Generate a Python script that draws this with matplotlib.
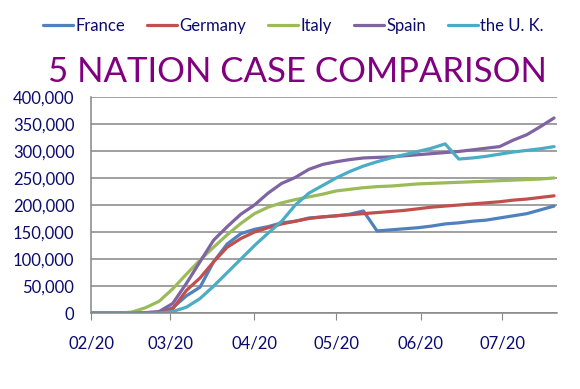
import matplotlib
matplotlib.use("Agg")
import matplotlib.pyplot as plt
import matplotlib.dates as mdates
import matplotlib.ticker as ticker
import numpy as np
import pandas as pd

plt.rcParams['font.family'] = ['Lato', 'DejaVu Sans']

# days since 2020-02-01, one point every 5 days
days = np.arange(0, 171, 5)
dates = pd.Timestamp("2020-02-01") + pd.to_timedelta(days, unit="D")

france = [0, 0, 0, 0, 0, 1, 10, 32, 48, 95, 128, 147, 155, 160, 167, 170, 176, 178,
          180, 183, 189, 152, 154, 156, 158, 161, 165, 167, 170, 172, 176, 180, 184, 191, 198]
germany = [0, 0, 0, 0, 0, 1, 8, 42, 65, 95, 122, 138, 150, 158, 165, 170, 175, 178,
           180, 182, 184, 186, 188, 190, 193, 196, 198, 200, 202, 204, 206, 209, 211, 214, 217]
italy = [0, 0, 0, 2, 10, 22, 45, 72, 98, 122, 145, 166, 184, 196, 204, 210, 215, 220,
         226, 229, 232, 234, 235, 237, 239, 240, 241, 242, 243, 244, 245, 246, 247, 248, 250]
spain = [0, 0, 0, 0, 1, 3, 18, 55, 95, 135, 160, 183, 200, 222, 240, 251, 266, 275,
         280, 284, 287, 288, 289, 291, 293, 295, 297, 299, 302, 305, 308, 320, 330, 345, 361]
uk = [0, 0, 0, 0, 0, 0, 3, 11, 27, 50, 75, 100, 125, 148, 170, 200, 222, 236,
      250, 262, 272, 280, 287, 293, 299, 305, 313, 285, 287, 290, 294, 298, 301, 304, 308]

names = ["France", "Germany", "Italy", "Spain", "the U. K."]
series = [france, germany, italy, spain, uk]
colors = ["#4F81BD", "#C0504D", "#9BBB59", "#8064A2", "#4BACC6"]

navy = "#0B0B6E"
grid_c = "#868686"

fig = plt.figure(figsize=(5.8, 3.89), dpi=100)
ax = fig.add_axes([0.157, 0.195, 0.803, 0.556])

for name, vals, c in zip(names, series, colors):
    ax.plot(dates, np.array(vals) * 1000, color=c, lw=2.3, label=name, solid_capstyle="round")

ax.set_ylim(0, 400000)
ax.set_xlim(pd.Timestamp("2020-02-01"), pd.Timestamp("2020-07-21"))
ax.yaxis.set_major_locator(ticker.MultipleLocator(50000))
ax.yaxis.set_major_formatter(ticker.FuncFormatter(lambda v, p: f"{int(v):,}"))
ax.xaxis.set_major_locator(mdates.MonthLocator())
ax.xaxis.set_major_formatter(mdates.DateFormatter("%m/%y"))

ax.grid(axis="y", color=grid_c, lw=1.1)
ax.set_axisbelow(True)
for s in ["top", "right"]:
    ax.spines[s].set_visible(False)
for s in ["left", "bottom"]:
    ax.spines[s].set_color(grid_c)
    ax.spines[s].set_linewidth(1.1)

ax.tick_params(axis="x", length=5, color=grid_c, pad=11, labelsize=12, labelcolor=navy)
ax.tick_params(axis="y", length=0, pad=12, labelsize=12, labelcolor=navy)

fig.text(0.512, 0.816, "5 NATION CASE COMPARISON", color="#800080", fontsize=25,
         ha="center", va="center")

leg = fig.legend(loc="center", bbox_to_anchor=(0.506, 0.933), ncol=5, frameon=False,
                 fontsize=12, handlelength=1.8, handletextpad=0.15, columnspacing=1.3)
for t in leg.get_texts():
    t.set_color(navy)

fig.savefig("out.png", dpi=100)
